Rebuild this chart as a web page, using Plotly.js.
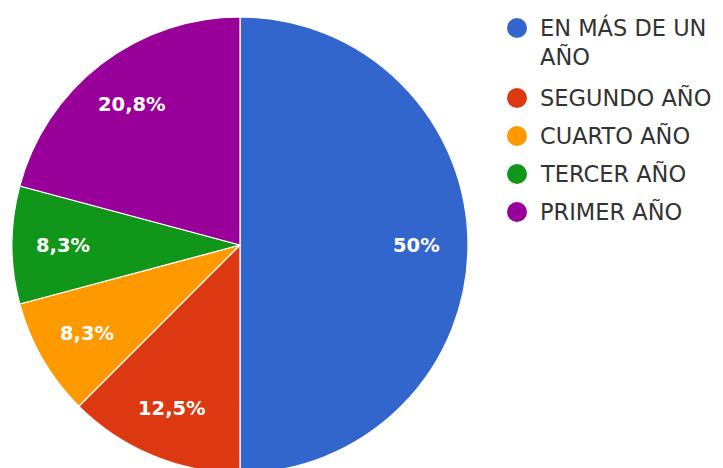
<!DOCTYPE html>
<html>
<head>
<meta charset="utf-8">
<script src="https://cdn.plot.ly/plotly-3.0.1.min.js"></script>
<style>
html,body{margin:0;padding:0;background:#fff;overflow:hidden;width:723px;height:468px;}
#chart{width:723px;height:480px;}
</style>
</head>
<body>
<div id="chart"></div>
<script>
// ---- data ----
var categories = ["EN MÁS DE UN AÑO", "SEGUNDO AÑO", "CUARTO AÑO", "TERCER AÑO", "PRIMER AÑO"];
var legendText = ["EN MÁS DE UN<br>AÑO", "SEGUNDO AÑO", "CUARTO AÑO", "TERCER AÑO", "PRIMER AÑO"];
var counts = [12, 3, 2, 2, 5];
var colors = ["#3366cc", "#dc3912", "#ff9900", "#109618", "#990099"];

// ---- layout constants ----
var W = 723, H = 480;
var cx = 240, cyTop = 245, R = 228;
var cyBottom = H - cyTop;

var total = counts.reduce(function(a, b){ return a + b; }, 0);
var fmt = function(v){
  var p = Math.round(v / total * 1000) / 10;
  return (p % 1 === 0 ? p.toFixed(0) : p.toFixed(1)).replace('.', ',') + '%';
};

var pie = {
  type: 'pie',
  labels: categories,
  values: counts,
  sort: false,
  direction: 'clockwise',
  rotation: 0,
  marker: {colors: colors, line: {color: '#ffffff', width: 1.2}},
  textinfo: 'none',
  hoverinfo: 'label+percent',
  showlegend: false,
  domain: {x: [(cx - R) / W, (cx + R) / W], y: [(cyBottom - R) / H, (cyBottom + R) / H]}
};

var annotations = [];
var shapes = [];
var cum = 0;
counts.forEach(function(v, i){
  var mid = (cum + v / 2) / total * 2 * Math.PI;
  cum += v;
  var rr = 0.775 * R;
  annotations.push({
    xref: 'paper', yref: 'paper',
    x: (cx + rr * Math.sin(mid)) / W,
    y: (cyBottom + rr * Math.cos(mid)) / H,
    text: fmt(v), showarrow: false,
    xanchor: 'center', yanchor: 'middle',
    font: {family: 'DejaVu Sans', size: 19.5, color: '#ffffff', weight: 'bold'}
  });
});

// legend drawn in layout
var ly = 28;
legendText.forEach(function(t, i){
  var lines = t.split('<br>').length;
  shapes.push({
    type: 'circle', xref: 'paper', yref: 'paper',
    xsizemode: 'pixel', ysizemode: 'pixel',
    xanchor: 517 / W, yanchor: 1 - ly / H,
    x0: -10, x1: 10, y0: -10, y1: 10,
    fillcolor: colors[i], line: {width: 0}
  });
  annotations.push({
    xref: 'paper', yref: 'paper',
    x: 538 / W, y: 1 - (ly - 16) / H,
    text: t, showarrow: false, align: 'left',
    xanchor: 'left', yanchor: 'top',
    font: {family: 'DejaVu Sans', size: 22.5, color: '#333333'}
  });
  ly += 38 + 32 * (lines - 1);
});

var layout = {
  width: W, height: H,
  margin: {l: 0, r: 0, t: 0, b: 0},
  paper_bgcolor: '#ffffff',
  showlegend: false,
  annotations: annotations,
  shapes: shapes
};

Plotly.newPlot('chart', [pie], layout, {displayModeBar: false, staticPlot: true});
</script>
</body>
</html>
